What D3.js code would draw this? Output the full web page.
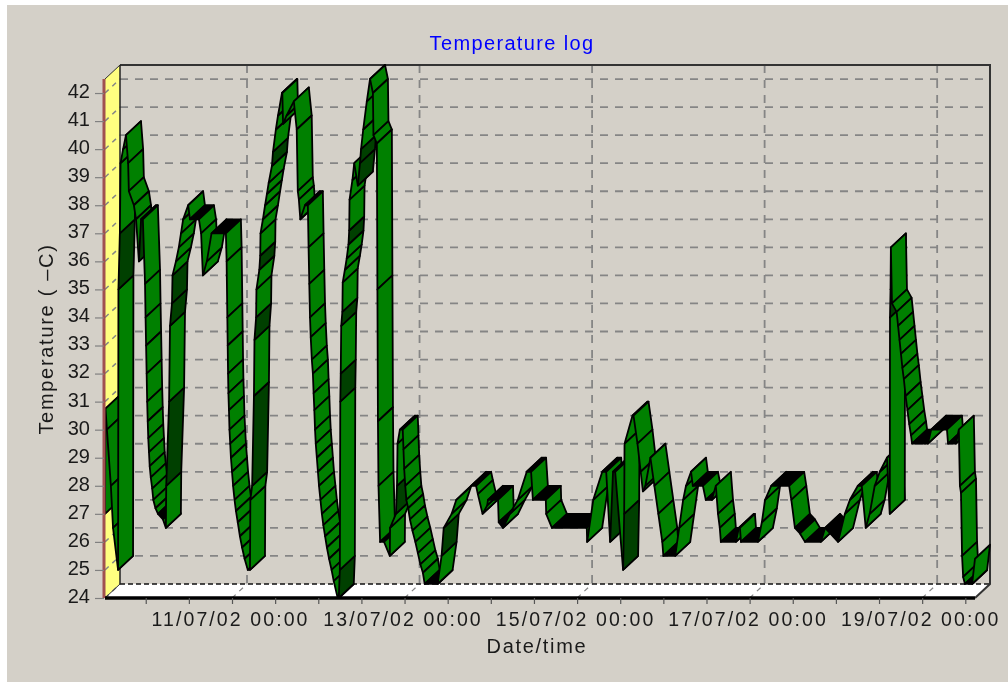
<!DOCTYPE html>
<html><head><meta charset="utf-8">
<style>html,body{margin:0;padding:0;background:#fff;overflow:hidden}svg{display:block;filter:blur(0.5px)}text{font-family:"Liberation Sans",Arial,sans-serif;fill:#1a1a1a}</style>
<script src="https://cdn.jsdelivr.net/npm/d3@7"></script></head><body><svg id="c" width="1008" height="682"></svg>
<script>
const hours=[0.67,0.8,1.2,2.3,2.9,4.3,4.4,4.8,5.0,5.7,6.5,7.1,7.3,8.7,9.3,10.1,10.7,11.2,
11.8,11.95,12.1,12.25,12.4,12.55,12.7,12.9,13.1,13.4,13.8,14.1,14.7,15.4,16.8,17.6,
17.7,18.5,18.75,19.3,19.45,20.4,21.2,21.8,22.4,23.8,24.3,26.8,27.4,27.9,29.0,30.3,
34.3,34.5,34.7,34.8,34.9,35.0,35.15,35.3,35.5,35.7,36,36.3,36.7,37.1,37.6,38.2,38.8,39.5,40.4,
41.0,41.1,41.6,42.1,42.25,42.7,42.8,43.6,43.85,43.93,44.6,45.2,45.7,46.2,47.1,47.4,48.2,48.8,49.9,50.0,50.2,51.2,53.2,54,54.3,54.6,55.0,56.3,
57.1,57.3,57.5,57.7,57.9,58.2,58.5,58.7,58.9,59.1,59.3,59.6,59.9,60.2,60.6,61,61.4,61.9,62.4,63,63.7,64.3,65.4,
65.7,66.0,66.12,66.25,66.38,66.7,66.8,67.4,67.9,68.4,68.6,68.7,69.5,70,71,71.6,71.9,72.5,73.5,74.4,75.2,75.35,76.3,76.45,76.6,76.75,77.2,78.3,79.9,79.97,81.6,81.9,82.05,82.7,
83.5,83.7,83.9,84.2,84.5,85,85.5,86.2,87,87.7,88.4,89.1,89.6,93.2,
94.3,94.9,97.1,98.4,102.5,103.9,104.4,105.7,107,107.2,110,110.2,111.4,113.3,115.5,118,119.2,119.7,123.3,123.4,125,134.7,134.8,136.5,139,140.1,141.2,142,142.6,144.8,145.1,145.2,147.4,147.7,148.8,149.7,150.3,151,152.4,153.5,154.6,155.7,156,159.3,160.4,161.5,162.3,163.7,164.2,167,167.8,169.5,170.6,171.2,171.7,172,176.2,177.0,177.3,177.6,182.3,183.4,184.3,186,191,191.6,192.6,194,195.4,199.8,201,204.6,206.5,207.9,210.1,211.2,212.3,213.4,214.8,216.2,218.2,219,219.05,219.2,219.3,219.6,
220.9,221.3,221.7,222.1,222.5,222.9,223.4,223.9,224.4,224.9,225.2,
228.8,229.6,230.5,234.9,235.2,237.4,238.2,238.5,238.8,239.1,239.4,239.9,241.9,242.7];
const temps=[27,30.75,30,28,26.5,25,35,37,39.5,40,40.5,39.5,38.5,38,37.5,36,37.5,37.5,
35.2,34,33,32,31,30.3,29.7,29.2,28.7,28.3,27.9,27.5,27.2,27,26.8,26.5,
28,31,33.7,34.5,35.5,36,36.5,37,37.5,38,37.5,37.5,37,35.5,36,37,
37,36,34,33,32,31.3,30.7,30,29.5,29,28.5,28,27.5,27.1,26.7,26.2,25.8,25.4,25,
25,27.5,28,31.2,33.2,34,35,35.7,36.2,37,37.5,38,38.4,38.8,39.4,39.9,40.7,41.2,42,42,40.9,41.2,41.7,40.7,38.5,38.2,37.5,38,
38,36.5,35.2,34,33.3,32.5,32,31.3,30.7,30,29.5,29,28.5,28,27.5,27,26.6,26.2,25.8,25.4,25,24.6,24,
24,25,31,32,33.7,34.2,35.25,35.7,36.1,36.6,37.1,38.2,38.9,39.5,38.7,39.5,40,40.7,41.7,42.5,42,40.5,40.2,35,30.3,28,26,26,25.5,26.5,27,28,29.5,30,
30,29.3,28.6,28,27.5,27.2,26.8,26.4,26,25.6,25.2,24.9,24.5,24.5,
25.5,26.5,27,27.5,28,28,27.7,27,27.3,27.5,27.5,26.7,26.5,27,27.5,28.5,28.5,27.5,27.5,27,26.5,26.5,26,27.5,28.5,28.5,26,28.5,28.5,25,27,29.5,30.5,30.5,29.5,28.5,27.8,28,29,28,27,26,25.5,25.5,26.5,27.5,28,28.5,28,28,27.5,27.5,28,27,26.5,26,26,26.5,26.5,26,26,26.7,27.5,28,28,27.5,26.5,26.3,26,26,26.5,26,27,27.5,28,28,26.5,27,28,28.5,29,27,34,35,36.5,34.5,
34.2,33.7,33.2,32.7,32.2,31.8,31.2,30.7,30.2,29.8,29.5,
29.5,29.5,30,30,29.5,29.5,30,28,27.75,25.5,24.75,24.5,24.5,25.4];
const yTicks=[24,25,26,27,28,29,30,31,32,33,34,35,36,37,38,39,40,41,42];
const labelledDays=[11,13,15,17,19];
const title="Temperature log", xTitle="Date/time", yTitle="Temperature ( \u2013C)";
const base=Date.UTC(2002,6,9,12,0);
const parsed=hours.map(h=>new Date(base+h*36e5));
const svg=d3.select("#c");
const L=105,R=975,B=598,T=79,DX=15,DY=-14;
const x=d3.scaleUtc().domain([new Date(Date.UTC(2002,6,9,12,40)),new Date(Date.UTC(2002,6,19,14,42))]).range([L,R]);
const y=d3.scaleLinear().domain([24,42.5]).range([B,T]);
const tickDates=d3.utcHour.range(x.domain()[0],x.domain()[1],1).filter(d=>d.getUTCHours()%12===0);
const major=d=>d.getUTCHours()===0&&labelledDays.includes(d.getUTCDate());
const fmt=d3.utcFormat("%d/%m/%y %H:%M");
svg.append("rect").attr("x",7).attr("y",5).attr("width",1001).attr("height",677).attr("fill","#d4d0c8");
const poly=a=>a.map(p=>p.join(",")).join(" ");
svg.append("polygon").attr("points",poly([[L,B],[L+DX,B+DY],[L+DX,T+DY],[L,T]])).attr("fill","#ffff80");
svg.append("polygon").attr("points",poly([[L,B],[L+DX,B+DY],[R+DX,B+DY],[R,B]])).attr("fill","#fff");
const grey="#858585";
yTicks.forEach(v=>{
  svg.append("line").attr("x1",L).attr("y1",y(v)).attr("x2",L+DX).attr("y2",y(v)+DY).attr("stroke",grey).attr("stroke-width",1.5).attr("stroke-dasharray","5 5");
  if(v>24)svg.append("line").attr("x1",L+DX).attr("y1",y(v)+DY).attr("x2",R+DX).attr("y2",y(v)+DY).attr("stroke",grey).attr("stroke-width",1.8).attr("stroke-dasharray","8 7");
});
tickDates.filter(major).forEach(d=>{
  svg.append("line").attr("x1",x(d)+DX).attr("y1",T+DY).attr("x2",x(d)+DX).attr("y2",B+DY).attr("stroke",grey).attr("stroke-width",1.8).attr("stroke-dasharray","8 7");
  svg.append("line").attr("x1",x(d)).attr("y1",B).attr("x2",x(d)+DX).attr("y2",B+DY).attr("stroke",grey).attr("stroke-width",1.2).attr("stroke-dasharray","5 5");
});
svg.append("line").attr("x1",L+DX).attr("y1",B+DY).attr("x2",R+DX).attr("y2",B+DY).attr("stroke","#111").attr("stroke-width",1.4).attr("stroke-dasharray","5 3");
svg.append("path").attr("d",`M${L+DX},${T+DY}H${R+DX}V${B+DY}L${R},${B}`).attr("fill","none").attr("stroke","#333").attr("stroke-width",2);
svg.append("line").attr("x1",L).attr("y1",T).attr("x2",L+DX).attr("y2",T+DY).attr("stroke","#333").attr("stroke-width",1);
svg.append("line").attr("x1",L+DX).attr("y1",T+DY).attr("x2",L+DX).attr("y2",B+DY).attr("stroke","#222").attr("stroke-width",1.5);
svg.append("line").attr("x1",L).attr("y1",B).attr("x2",L+DX).attr("y2",B+DY).attr("stroke","#333").attr("stroke-width",1);

const segs=d3.pairs(d3.range(hours.length));
svg.append("g").selectAll("polygon").data(segs).join("polygon")
  .attr("points",([a,b])=>{const x1=x(parsed[a]),y1=y(temps[a]),x2=x(parsed[b]),y2=y(temps[b]);return poly([[x1,y1],[x2,y2],[x2+DX,y2+DY],[x1+DX,y1+DY]]);})
  .attr("fill",([a,b])=>{const r=(temps[b]-temps[a])/(hours[b]-hours[a]);
    if(Math.abs(r)<0.2)return "#000";
    if(r>=1.3&&r<=8)return "#004000";
    return "#008000";})
  .attr("stroke","#000").attr("stroke-width",1.8).attr("stroke-linejoin","round");

const yAxis=d3.axisLeft(y).tickValues(yTicks).tickSize(9).tickPadding(5).tickFormat(d3.format("d"));
const ya=svg.append("g").attr("transform",`translate(${L-1},0)`).call(yAxis);
ya.select(".domain").attr("stroke","#a05050").attr("stroke-width",3).attr("d",`M0,${T}V${B}`);
ya.selectAll(".tick line").attr("stroke","#808080").attr("stroke-width",1.2);
ya.selectAll("text").attr("dy","0.22em").style("font-size","20px").style("font-family",'"Liberation Sans"').attr("fill","#1a1a1a");
const xAxis=d3.axisBottom(x).tickValues(tickDates).tickSize(6).tickPadding(8).tickFormat(d=>major(d)?fmt(d):"");
const xa=svg.append("g").attr("transform",`translate(0,${B})`).call(xAxis);
xa.select(".domain").attr("stroke","#000").attr("stroke-width",3.5).attr("d",`M${L},0H${R}`);
xa.selectAll(".tick line").attr("stroke","#555").attr("stroke-width",1.2);
xa.selectAll("text").attr("dx",-2).style("font-size","19.5px").style("letter-spacing","2.1px").style("font-family",'"Liberation Sans"').attr("fill","#1a1a1a");
svg.append("text").attr("x",512).attr("y",50).attr("text-anchor","middle").style("font-size","20px").style("letter-spacing","1.35px").style("fill","#0000ff").text(title);
svg.append("text").attr("x",537).attr("y",653).attr("text-anchor","middle").style("font-size","20px").style("letter-spacing","1.7px").text(xTitle);
svg.append("text").attr("transform","translate(53,339) rotate(-90)").attr("text-anchor","middle").style("font-size","20px").style("letter-spacing","1.7px").text(yTitle);
if(hours.length!==temps.length)console.error("length mismatch",hours.length,temps.length);
</script></body></html>
